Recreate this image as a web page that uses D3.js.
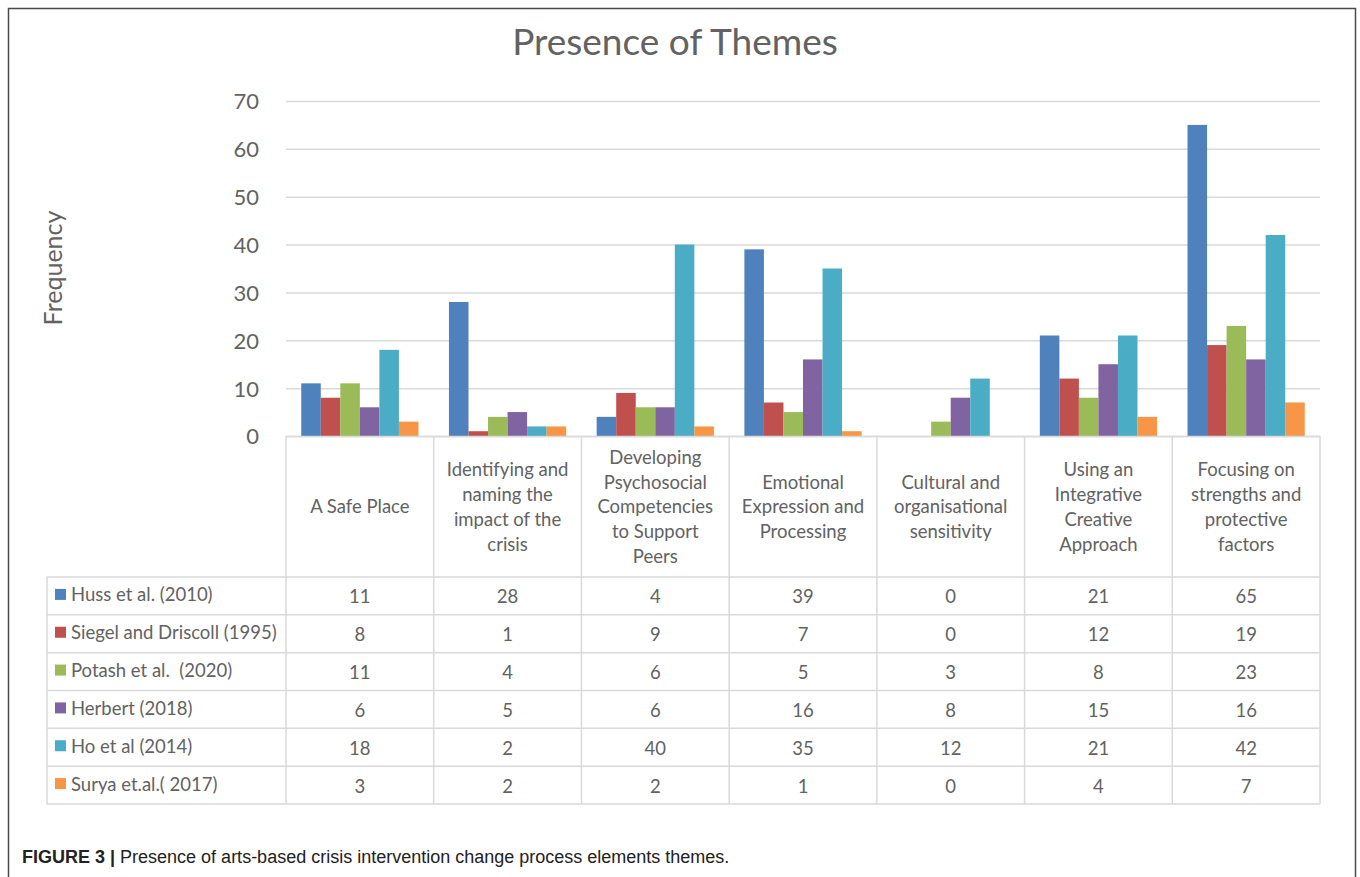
<!DOCTYPE html>
<html><head><meta charset="utf-8">
<script src="https://cdn.jsdelivr.net/npm/d3@7"></script>
<style>
html,body{margin:0;padding:0;background:#fff;}
svg{display:block;}
</style></head>
<body>
<svg id="chart" width="1360" height="877"></svg>
<script>
const categories = [
  "A Safe Place",
  "Identifying and naming the impact of the crisis",
  "Developing Psychosocial Competencies to Support Peers",
  "Emotional Expression and Processing",
  "Cultural and organisational sensitivity",
  "Using an Integrative Creative Approach",
  "Focusing on strengths and protective factors"
];
const categoryLines = [
  ["A Safe Place"],
  ["Identifying and","naming the","impact of the","crisis"],
  ["Developing","Psychosocial","Competencies","to Support","Peers"],
  ["Emotional","Expression and","Processing"],
  ["Cultural and","organisational","sensitivity"],
  ["Using an","Integrative","Creative","Approach"],
  ["Focusing on","strengths and","protective","factors"]
];
const seriesNames = ["Huss et al. (2010)","Siegel and Driscoll (1995)","Potash et al.  (2020)","Herbert (2018)","Ho et al (2014)","Surya et.al.( 2017)"];
const huss   = [11,28,4,39,0,21,65];
const siegel = [8,1,9,7,0,12,19];
const potash = [11,4,6,5,3,8,23];
const herbert= [6,5,6,16,8,15,16];
const ho     = [18,2,40,35,12,21,42];
const surya  = [3,2,2,1,0,4,7];
const seriesValues = [huss,siegel,potash,herbert,ho,surya];
const colors = ["#4F81BD","#C0504D","#9BBB59","#8064A2","#4BACC6","#F79646"];
const yTicks = [0,10,20,30,40,50,60,70];

const svg = d3.select("#chart");
const font = "Lato, 'Open Sans', sans-serif";
const textCol = "#626262";
const gridCol = "#D9D9D9";

// frame
svg.append("path").attr("d","M8.5,877 V8.5 H1355.5 V877")
  .attr("fill","none").attr("stroke","#4a4a4a").attr("stroke-width",1.5);

const plotL = 286, plotR = 1320, plotT = 101, plotB = 436;
const x0 = d3.scaleBand().domain(categories).range([plotL, plotR]).paddingInner(0).paddingOuter(0);
const x1 = d3.scaleBand().domain(seriesNames).range([0, x0.bandwidth()]).paddingInner(0).paddingOuter(0.78);
const y = d3.scaleLinear().domain([0,70]).range([plotB, plotT]);

// title
svg.append("text").attr("x",675).attr("y",55).attr("text-anchor","middle")
  .attr("font-family",font).attr("font-size",37).attr("fill",textCol).text("Presence of Themes");

// y axis label
svg.append("text").attr("transform","translate(62,268) rotate(-90)").attr("text-anchor","middle")
  .attr("font-family",font).attr("font-size",25).attr("fill",textCol).text("Frequency");

// gridlines + ticks via axis
const yAxis = d3.axisLeft(y).tickValues(yTicks).tickSize(-(plotR-plotL)).tickPadding(27).tickFormat(d3.format("d"));
const ga = svg.append("g").attr("transform",`translate(${plotL},0)`).call(yAxis);
ga.select(".domain").remove();
ga.selectAll(".tick line").attr("stroke",gridCol).attr("stroke-width",1.5);
ga.selectAll(".tick text").attr("font-family",font).attr("font-size",22).attr("fill",textCol).attr("dy","0.36em");

// bars
const gc = svg.append("g");
categories.forEach((c,ci)=>{
  seriesNames.forEach((s,si)=>{
    const v = seriesValues[si][ci];
    if (v<=0) return;
    gc.append("rect").attr("x",x0(c)+x1(s)).attr("width",x1.bandwidth())
      .attr("y",y(v)).attr("height",y(0)-y(v)).attr("fill",colors[si]);
  });
});

// table
const headB = 577, rowH = (804-577)/6, legL = 47;
const tg = svg.append("g").attr("stroke",gridCol).attr("stroke-width",1.5).attr("fill","none");
tg.append("line").attr("x1",plotL).attr("x2",plotR).attr("y1",plotB+0.5).attr("y2",plotB+0.5);
for (let r=0;r<=6;r++){
  const yy = headB + r*rowH;
  tg.append("line").attr("x1",legL).attr("x2",plotR).attr("y1",yy).attr("y2",yy);
}
categories.forEach((c,i)=>{
  tg.append("line").attr("x1",x0(c)).attr("x2",x0(c)).attr("y1",plotB).attr("y2",804);
});
tg.append("line").attr("x1",plotR).attr("x2",plotR).attr("y1",plotB).attr("y2",804);
tg.append("line").attr("x1",legL).attr("x2",legL).attr("y1",headB).attr("y2",804);

// category labels
const lineH = 24.8, headMid = 507;
categoryLines.forEach((lines,i)=>{
  const cx = x0(categories[i]) + x0.bandwidth()/2;
  const startY = headMid - (lines.length-1)*lineH/2;
  const t = svg.append("text").attr("text-anchor","middle").attr("font-family",font)
    .attr("font-size",18.5).attr("fill",textCol);
  lines.forEach((ln,k)=>{
    t.append("tspan").attr("x",cx).attr("y",startY+k*lineH).attr("dy","0.35em").text(ln);
  });
});

// legend rows + values
seriesNames.forEach((s,si)=>{
  const cy = headB + si*rowH + rowH/2;
  svg.append("rect").attr("x",55).attr("y",cy-7).attr("width",11).attr("height",11).attr("fill",colors[si]);
  svg.append("text").attr("x",71).attr("y",cy-1).attr("dy","0.35em").attr("font-family",font)
    .attr("font-size",18.5).attr("fill",textCol).style("white-space","pre").text(s);
  categories.forEach((c,ci)=>{
    svg.append("text").attr("x",x0(c)+x0.bandwidth()/2).attr("y",cy+1).attr("dy","0.35em")
      .attr("text-anchor","middle").attr("font-family",font).attr("font-size",18.5).attr("fill",textCol)
      .text(seriesValues[si][ci]);
  });
});

// caption
const cap = svg.append("text").attr("x",22).attr("y",863).attr("font-family","'Liberation Sans', Arial, sans-serif")
  .attr("font-size",18).attr("fill","#222");
cap.append("tspan").attr("font-weight","bold").text("FIGURE 3 | ");
cap.append("tspan").text("Presence of arts-based crisis intervention change process elements themes.");
</script>
</body></html>
